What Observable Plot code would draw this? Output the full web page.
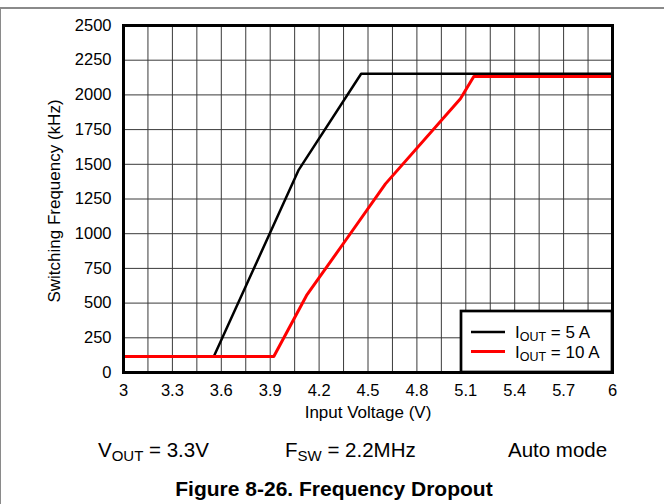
<!DOCTYPE html>
<html>
<head>
<meta charset="utf-8">
<script src="https://cdn.jsdelivr.net/npm/d3@7"></script>
<script src="https://cdn.jsdelivr.net/npm/@observablehq/plot@0.6"></script>
<style>
  html, body { margin: 0; padding: 0; background: #fff; }
  #wrap { position: relative; width: 664px; height: 504px; overflow: hidden; font-family: "Liberation Sans", Arial, sans-serif; }
  #topline { position: absolute; left: 0; top: 7px; width: 664px; height: 0; border-top: 2px solid #8a8a8a; }
  #leftline { position: absolute; left: 0; top: 7px; width: 0; height: 497px; border-left: 1px solid #8a8a8a; }
  #chart { position: absolute; left: 0; top: 0; }
  #caption { position: absolute; left: 0; top: 420px; }
</style>
</head>
<body>
<div id="wrap">
  <div id="chart"></div>
  <div id="caption"></div>
  <div id="topline"></div>
  <div id="leftline"></div>
</div>
<script>
// ---- data ----
const volts5A = [3, 3.554, 4.075, 4.458, 6];
const freq5A  = [115, 115, 1460, 2152, 2152];
const volts10A = [3, 3.922, 4.123, 4.362, 4.607, 5.067, 5.149, 6];
const freq10A  = [115, 115, 555, 951, 1359, 1972, 2133, 2133];
const seriesNames = ["5 A", "10 A"];
const seriesColors = ["#000000", "#ff0000"];
const xTicks = [3, 3.3, 3.6, 3.9, 4.2, 4.5, 4.8, 5.1, 5.4, 5.7, 6];
const xGrid = d3.range(0, 21).map(i => 3 + i * 0.15);
const yTicks = [0, 250, 500, 750, 1000, 1250, 1500, 1750, 2000, 2250, 2500];
const xLabel = "Input Voltage (V)";
const yLabel = "Switching Frequency (kHz)";
const captionItems = [["V", "OUT", " = 3.3V"], ["F", "SW", " = 2.2MHz"], ["Auto mode", "", ""]];
const figureTitle = "Figure 8-26. Frequency Dropout";

const rows5 = volts5A.map((v, i) => ({v, f: freq5A[i]}));
const rows10 = volts10A.map((v, i) => ({v, f: freq10A[i]}));

const W = 664, H = 420;
const mL = 123, mR = 52, mT = 25, mB = 48;

const plot = Plot.plot({
  width: W, height: H,
  marginLeft: mL, marginRight: mR, marginTop: mT, marginBottom: mB,
  style: {fontFamily: '"Liberation Sans", Arial, sans-serif', fontSize: "16px", color: "#000", background: "transparent", overflow: "visible"},
  x: {domain: [3, 6], label: null},
  y: {domain: [0, 2500], label: null},
  marks: [
    Plot.gridX(xGrid, {stroke: "#3a3a3a", strokeOpacity: 1, strokeWidth: 1}),
    Plot.gridY(yTicks, {stroke: "#3a3a3a", strokeOpacity: 1, strokeWidth: 1}),
    Plot.line(rows5, {x: "v", y: "f", stroke: seriesColors[0], strokeWidth: 2.5}),
    Plot.line(rows10, {x: "v", y: "f", stroke: seriesColors[1], strokeWidth: 3}),
    Plot.frame({stroke: "#000", strokeWidth: 3}),
    Plot.axisX(xTicks, {tickSize: 0, tickPadding: 12, tickFormat: d => String(+d.toFixed(1)), fontSize: 16.5}),
    Plot.axisY(yTicks, {tickSize: 0, tickPadding: 12, tickFormat: d => String(d), fontSize: 16.5}),
    Plot.text([xLabel], {text: d => d, frameAnchor: "bottom", dy: 40, fontSize: 17, lineAnchor: "middle"}),
    Plot.text([yLabel], {text: d => d, frameAnchor: "left", dx: -69, dy: 2, rotate: -90, fontSize: 17, textAnchor: "middle", lineAnchor: "middle"})
  ]
});
document.getElementById("chart").appendChild(plot);

// legend (inside bottom-right of frame)
const svg = d3.select(plot);
const fr = W - mR, fb = H - mB;
const lw = 151, lh = 61;
const lg = svg.append("g").attr("font-family", '"Liberation Sans", Arial, sans-serif').attr("text-anchor", "start");
lg.append("rect").attr("x", fr - lw).attr("y", fb - lh).attr("width", lw).attr("height", lh)
  .attr("fill", "#fff").attr("stroke", "#000").attr("stroke-width", 2.7);
seriesNames.forEach((name, i) => {
  const cy = fb - lh + 21 + i * 19.5;
  lg.append("line").attr("x1", fr - lw + 10).attr("x2", fr - lw + 44).attr("y1", cy).attr("y2", cy)
    .attr("stroke", seriesColors[i]).attr("stroke-width", i ? 3 : 2.5);
  const t = lg.append("text").attr("x", fr - lw + 54).attr("y", cy + 6).attr("font-size", 17).attr("fill", "#000").attr("text-anchor", "start");
  t.append("tspan").text("I");
  t.append("tspan").attr("font-size", 12.5).attr("dy", 3).text("OUT");
  t.append("tspan").attr("dy", -3).text(" = " + name);
});

// caption
const cap = d3.select("#caption").append("svg").attr("width", W).attr("height", 84)
  .attr("font-family", '"Liberation Sans", Arial, sans-serif');
const capX = [98, 285, 508];
captionItems.forEach((it, i) => {
  const t = cap.append("text").attr("x", capX[i]).attr("y", 37).attr("font-size", 20.5).attr("fill", "#000");
  t.append("tspan").text(it[0]);
  if (it[1]) {
    t.append("tspan").attr("font-size", 15).attr("dy", 4).text(it[1]);
    t.append("tspan").attr("dy", -4).text(it[2]);
  }
});
cap.append("text").attr("x", 334).attr("y", 76).attr("text-anchor", "middle")
  .attr("font-size", 21).attr("font-weight", "bold").text(figureTitle);
</script>
</body>
</html>
